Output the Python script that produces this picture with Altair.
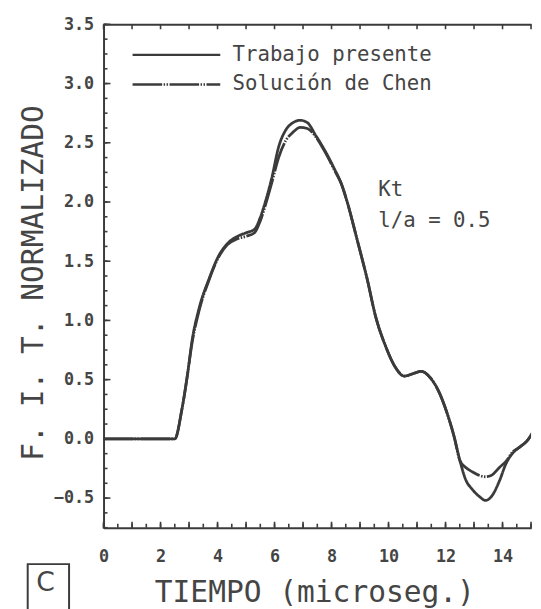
import altair as alt
import pandas as pd

# ---------------- data ----------------
t_vals = [0, 2.5, 2.75, 2.95, 3.1, 3.35, 3.7, 4.05, 4.35, 4.7, 5.0, 5.3, 5.5, 5.7,
          5.9, 6.15, 6.4, 6.65, 6.9, 7.15, 7.45, 7.8, 8.1, 8.35, 8.55, 8.9, 9.25,
          9.55, 9.9, 10.25, 10.55, 10.85, 11.15, 11.45, 11.8, 12.05, 12.3, 12.5,
          12.7, 12.95, 13.2, 13.4, 13.6, 13.9, 14.12, 14.36, 14.6, 14.85, 15.1]

trabajo_vals = [0, 0, 0.25, 0.55, 0.82, 1.10, 1.35, 1.55, 1.65, 1.71, 1.74, 1.77,
                1.87, 2.02, 2.20, 2.47, 2.61, 2.67, 2.69, 2.67, 2.56, 2.42, 2.28,
                2.15, 2.00, 1.68, 1.35, 1.03, 0.78, 0.60, 0.53, 0.55, 0.57, 0.52,
                0.38, 0.22, 0.02, -0.18, -0.34, -0.43, -0.49, -0.52, -0.49, -0.35,
                -0.21, -0.12, -0.07, -0.02, 0.07]

chen_vals = [0, 0, 0.25, 0.55, 0.80, 1.08, 1.34, 1.54, 1.64, 1.69, 1.71, 1.74,
             1.84, 1.99, 2.16, 2.38, 2.52, 2.59, 2.63, 2.62, 2.55, 2.41, 2.27,
             2.15, 2.00, 1.68, 1.35, 1.03, 0.78, 0.60, 0.53, 0.55, 0.57, 0.52,
             0.38, 0.22, 0.02, -0.18, -0.24, -0.28, -0.31, -0.32, -0.31, -0.24,
             -0.19, -0.11, -0.07, -0.02, 0.07]

series_names = ["Trabajo presente", "Solución de Chen"]
x_label_values = [0, 2, 4, 6, 8, 10, 12, 14]
y_label_values = [-0.5, 0.0, 0.5, 1.0, 1.5, 2.0, 2.5, 3.0, 3.5]
x_half_ticks = [i * 0.5 for i in range(31)]
x_unit_ticks = list(range(16))
y_minor_ticks = [-0.75 + i * 0.125 for i in range(35)]
x_title = "TIEMPO (microseg.)"
y_title = "F. I. T. NORMALIZADO"
annotation_lines = ["Kt", "l/a = 0.5"]
panel_label = ["C"]

n = len(t_vals)
df = pd.DataFrame({
    "t": t_vals + t_vals,
    "v": trabajo_vals + chen_vals,
    "serie": [series_names[0]] * n + [series_names[1]] * n,
})

INK = "#3b3b3b"
TXT = "#454545"
MONO = "DejaVu Sans Mono"
W, H = 434, 511

xs = alt.Scale(domain=[0, 15], nice=False, zero=False)
ys = alt.Scale(domain=[-0.75, 3.5], nice=False, zero=False)

lines = alt.Chart(df).mark_line(color=INK, strokeWidth=2.8, clip=True,
                                interpolate="monotone").encode(
    x=alt.X("t:Q", scale=xs, axis=alt.Axis(
        orient="bottom", values=x_label_values, format="d", ticks=False, tickSize=0,
        domain=True, domainColor=INK, domainWidth=2, grid=False,
        labelFont=MONO, labelFontSize=17, labelFontWeight="bold", labelColor=TXT,
        labelPadding=21, labelFlush=False,
        title=x_title, titleFont=MONO, titleFontSize=30, titleFontWeight="normal",
        titleColor=TXT, titleX=214, titleY=75, titleBaseline="alphabetic",
        titleAlign="center")),
    y=alt.Y("v:Q", scale=ys, axis=alt.Axis(
        orient="left", values=y_label_values, format=".1f", ticks=False, tickSize=0,
        domain=True, domainColor=INK, domainWidth=2, grid=False,
        labelFont=MONO, labelFontSize=17, labelFontWeight="bold", labelColor=TXT,
        labelPadding=10, labelFlush=False,
        title=y_title, titleFont=MONO, titleFontSize=30, titleFontWeight="normal",
        titleColor=TXT, titleAngle=270, titleX=-62, titleY=262,
        titleBaseline="alphabetic", titleAlign="center")),
    strokeDash=alt.StrokeDash("serie:N", scale=alt.Scale(
        domain=series_names, range=[[1, 0], [30, 1.5, 1.5, 1.5, 1.5, 1.5]]),
        legend=alt.Legend(orient="none", legendX=28, legendY=21, title=None,
                          symbolType="stroke", symbolSize=7921, clipHeight=20,
                          rowPadding=9, labelOffset=11, symbolStrokeWidth=2.5,
                          symbolStrokeColor=INK, labelFont=MONO, labelFontSize=21,
                          labelColor=TXT, labelLimit=400, padding=0)),
)

# top frame line (an axis with only its domain)
top_frame = alt.Chart(df).mark_point(opacity=0).encode(
    x=alt.X("t:Q", scale=xs, axis=alt.Axis(
        orient="top", ticks=False, labels=False, domain=True, domainColor=INK,
        domainWidth=2, grid=False, title=None)),
    y=alt.Y("v:Q", scale=ys, axis=None),
)


def x_ticks(values, y_from, y_to):
    return alt.Chart(pd.DataFrame({"p": values})).mark_rule(
        color=INK, strokeWidth=1.6).encode(
        x=alt.X("p:Q", scale=xs, axis=None), y=alt.value(y_from), y2=alt.value(y_to))


def y_ticks(values, length):
    return alt.Chart(pd.DataFrame({"p": values})).mark_rule(
        color=INK, strokeWidth=1.6).encode(
        y=alt.Y("p:Q", scale=ys, axis=None), x=alt.value(0), x2=alt.value(length))


bottom_half = x_ticks(x_half_ticks, H, H - 4)
bottom_unit = x_ticks(x_unit_ticks, H + 1, H - 6)
top_unit = x_ticks(x_unit_ticks, 0, 5)
left_minor = y_ticks(y_minor_ticks, 4)
left_major = y_ticks(y_label_values, 7)

kt = alt.Chart(pd.DataFrame({"txt": [annotation_lines[0]]})).mark_text(
    font=MONO, fontSize=21, color=TXT, align="left", baseline="alphabetic").encode(
    x=alt.value(279), y=alt.value(174), text="txt:N")
la = alt.Chart(pd.DataFrame({"txt": [annotation_lines[1]]})).mark_text(
    font=MONO, fontSize=21, color=TXT, align="left", baseline="alphabetic").encode(
    x=alt.value(279), y=alt.value(206), text="txt:N")

box = alt.Chart(pd.DataFrame({"txt": panel_label})).mark_rect(
    fill="white", fillOpacity=0, stroke=INK, strokeWidth=2).encode(
    x=alt.value(-77), x2=alt.value(-35), y=alt.value(548), y2=alt.value(600))
c_lbl = alt.Chart(pd.DataFrame({"txt": panel_label})).mark_text(
    font="DejaVu Sans", fontSize=27, color=TXT, align="center",
    baseline="alphabetic").encode(
    x=alt.value(-59), y=alt.value(575), text="txt:N")

chart = alt.layer(
    lines, top_frame, bottom_half, bottom_unit, top_unit, left_minor, left_major,
    kt, la, box, c_lbl
).resolve_axis(
    x="independent", y="independent"
).properties(
    width=W, height=H,
    autosize=alt.AutoSizeParams(type="none"),
    padding={"left": 97, "top": 12, "right": 2, "bottom": 80},
    background="white",
).configure_view(stroke=None)

chart.save("out.html", embed_options={"renderer": "svg", "actions": False})
